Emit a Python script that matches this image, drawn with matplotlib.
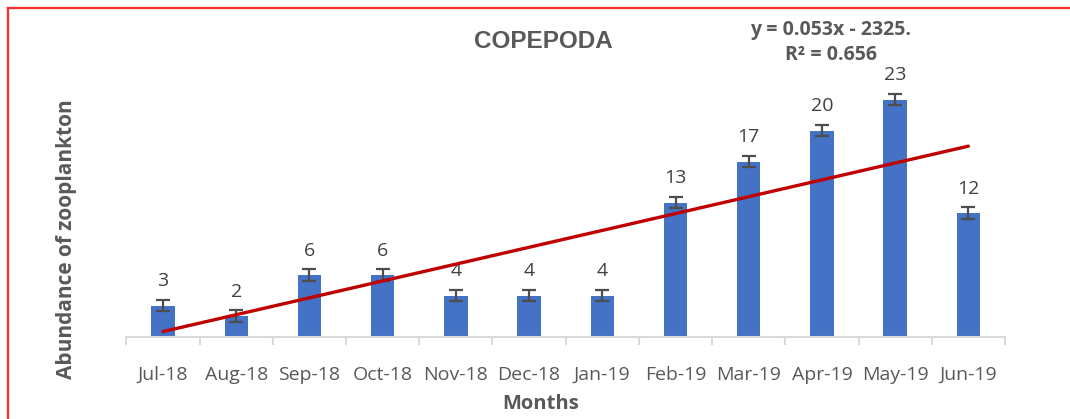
import matplotlib
matplotlib.use("Agg")
import matplotlib.pyplot as plt
import numpy as np
from matplotlib.lines import Line2D

months = ["Jul-18", "Aug-18", "Sep-18", "Oct-18", "Nov-18", "Dec-18",
          "Jan-19", "Feb-19", "Mar-19", "Apr-19", "May-19", "Jun-19"]
abundance = [3, 2, 6, 6, 4, 4, 4, 13, 17, 20, 23, 12]
errors = [0.55, 0.55, 0.55, 0.55, 0.55, 0.55, 0.55, 0.55, 0.55, 0.55, 0.55, 0.55]
title = "COPEPODA"
equation = "y = 0.053x - 2325."
r2_text = "R² = 0.656"

W, H = 1070, 419
fig = plt.figure(figsize=(W / 100, H / 100), dpi=100)
font = "Open Sans"

# red border
fig.add_artist(Line2D([8 / W, 1.0], [1 - 8 / H, 1 - 8 / H], transform=fig.transFigure,
                      color="#FF2A2A", lw=1.6))
fig.add_artist(Line2D([8 / W, 8 / W], [0, 1 - 8 / H], transform=fig.transFigure,
                      color="#FF2A2A", lw=1.6))

left_px, right_px, base_px = 126.4, 1005, 336.7
ymax = 25
px_per_unit = 10.3
top_px = base_px - ymax * px_per_unit
ax = fig.add_axes([left_px / W, 1 - base_px / H, (right_px - left_px) / W,
                   (base_px - top_px) / H])

x = np.arange(len(months))
ax.bar(x, abundance, width=0.32, color="#4472C4", zorder=2)
ax.errorbar(x, abundance, yerr=errors, fmt="none", ecolor="#4D4D4D",
            elinewidth=1.6, capsize=5, capthick=1.6, zorder=3)

# linear trend
coef = np.polyfit(x, abundance, 1)
ax.plot(x, np.polyval(coef, x), color="#C00000", lw=2.4, zorder=4,
        solid_capstyle="round")

for xi, v, e in zip(x, abundance, errors):
    ax.annotate(str(v), (xi, v + e), xytext=(0, 7), textcoords="offset points",
                ha="center", va="bottom", fontsize=14, color="#404040",
                family=font)

ax.set_xlim(-0.5, len(months) - 0.5)
ax.set_ylim(0, ymax)
for s in ["top", "right", "left"]:
    ax.spines[s].set_visible(False)
ax.spines["bottom"].set_color("#D9D9D9")
ax.spines["bottom"].set_linewidth(1.5)
ax.set_yticks([])
ax.set_xticks(x)
ax.set_xticklabels(months, family=font, fontsize=14, color="#595959")
ax.tick_params(axis="x", which="major", length=0, pad=21)
ax.set_xticks(np.arange(-0.5, len(months), 1), minor=True)
ax.tick_params(axis="x", which="minor", length=6, width=1.5, color="#D9D9D9")

fig.text(67 / W, 1 - 239 / H, "Abundance of zooplankton", rotation=90,
         ha="center", va="center", fontsize=15, fontweight="bold",
         color="#595959", family=font)
fig.text(541 / W, 1 - 404 / H, "Months", ha="center", va="center",
         fontsize=14.5, fontweight="bold", color="#595959", family=font)
fig.text(543 / W, 1 - 42 / H, title, ha="center", va="center",
         fontsize=17.5, fontweight="bold", color="#595959", family="Liberation Sans")
fig.text(831 / W, 1 - 30 / H, equation, ha="center", va="center",
         fontsize=14, fontweight="bold", color="#595959", family=font)
fig.text(831 / W, 1 - 55 / H, r2_text, ha="center", va="center",
         fontsize=14, fontweight="bold", color="#595959", family=font)

fig.savefig("out.png", dpi=100)
